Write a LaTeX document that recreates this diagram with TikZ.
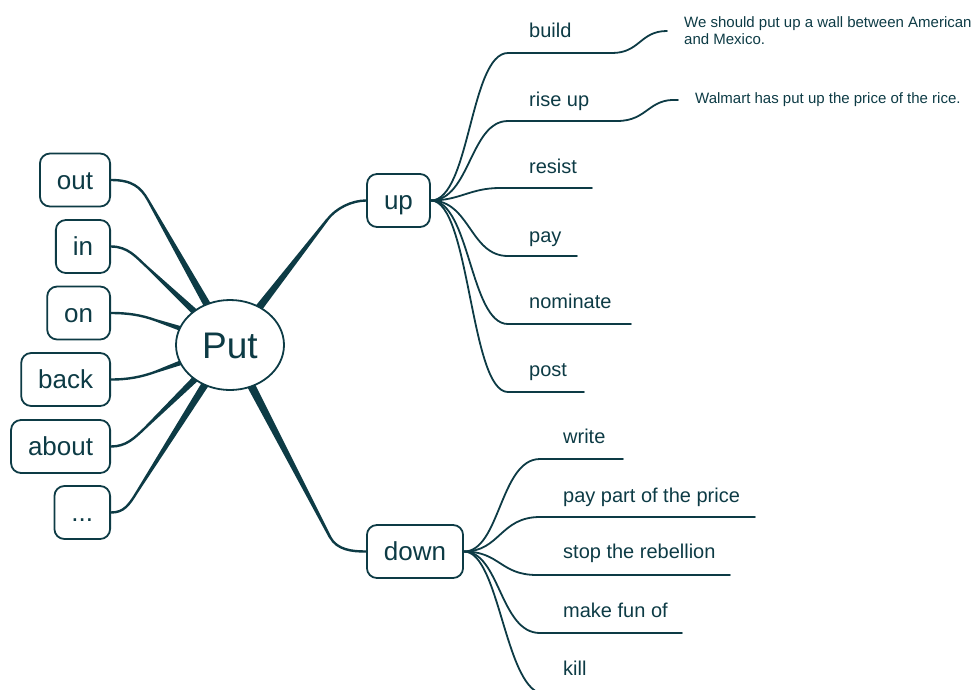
\documentclass[tikz,border=0pt]{standalone}
\usepackage{fontspec}
\setmainfont{Liberation Sans}
\usetikzlibrary{calc,shapes.geometric,backgrounds}
\definecolor{ink}{HTML}{0D3B45}
% tapered segment: thin end #1 (half width #2) to thick end #3 (half width #4)
\newcommand\taperseg[4]{%
  \fill[ink] ($(#1)!#2!90:(#3)$) -- ($(#3)!#4!-90:(#1)$) -- ($(#3)!#4!90:(#1)$) -- ($(#1)!#2!-90:(#3)$) -- cycle;
  \fill[ink] (#1) circle (#2);}
\tikzset{
  box/.style={draw=ink, line width=1.8pt, rounded corners=10pt, fill=white, text=ink,
    font=\fontsize{26}{30}\selectfont, inner xsep=17pt, inner ysep=0pt,
    minimum height=53pt, text height=18.7pt, text depth=0pt},
  hub/.style={ellipse, draw=ink, line width=1.8pt, fill=white, minimum width=108pt,
    minimum height=90pt, inner sep=0pt, text=ink, font=\fontsize{37}{40}\selectfont,
    text height=26.5pt, text depth=0pt},
  leaf/.style={anchor=base west, inner sep=0pt, text=ink, font=\fontsize{20}{24}\selectfont},
  note/.style={anchor=west, inner sep=0pt, text=ink, align=left, font=\fontsize{15}{17}\selectfont},
  branch/.style={draw=ink, line width=2.4pt, line cap=round},
  twig/.style={draw=ink, line width=1.8pt, line cap=round},
}
\begin{document}
\begin{tikzpicture}[x=1pt,y=-1pt]
\useasboundingbox (0,0) rectangle (975,689);
% central node
\node[hub] (Put) at (230,345) {Put};
% left branches
\node[box, anchor=east] (out) at (111,180) {out};
\node[box, anchor=east] (in) at (111,246.5) {in};
\node[box, anchor=east] (on) at (111,313) {on};
\node[box, anchor=east] (back) at (111,379.5) {back};
\node[box, anchor=east] (about) at (111,446.5) {about};
\node[box, anchor=east] (dots) at (111,512.5) {...};
% right branches
\node[box] (up) at (398.5,200.5) {up};
\node[box] (down) at (415,551.5) {down};
% up leaves
\node[leaf] (build) at (529,37) {build};
\node[leaf] (riseup) at (529,106) {rise up};
\node[leaf] (resist) at (529,173) {resist};
\node[leaf] (pay) at (529,242) {pay};
\node[leaf] (nominate) at (529,308) {nominate};
\node[leaf] (post) at (529,376) {post};
% notes
\node[note] (wall) at (684,31) {We should put up a wall between American\\and Mexico.};
\node[note] (walmart) at (695,100) {Walmart has put up the price of the rice.};
% down leaves
\node[leaf] (write) at (563,443) {write};
\node[leaf] (paypart) at (563,502) {pay part of the price};
\node[leaf] (stop) at (563,558) {stop the rebellion};
\node[leaf] (make) at (563,617) {make fun of};
\node[leaf] (kill) at (563,675) {kill};
% joints
\coordinate (jout) at (148,200);
\coordinate (jin) at (147,267);
\coordinate (jon) at (155,320);
\coordinate (jback) at (155,372);
\coordinate (jabout) at (145,428);
\coordinate (jdots) at (137,492);
\coordinate (jup) at (327,220);
\coordinate (jdown) at (330,537);
\begin{pgfonlayer}{background}
  % left connectors
  \draw[branch] (out.east) .. controls (132,180) and (140.6,187) .. (jout);
  \taperseg{jout}{1.2pt}{Put.center}{4.6pt}
  \draw[branch] (in.east) .. controls (128,246.5) and (136,257) .. (jin);
  \taperseg{jin}{1.2pt}{Put.center}{4.6pt}
  \draw[branch] (on.east) .. controls (128,313) and (141,315) .. (jon);
  \taperseg{jon}{1.2pt}{Put.center}{4.6pt}
  \draw[branch] (back.east) .. controls (128,379.5) and (141,377) .. (jback);
  \taperseg{jback}{1.2pt}{Put.center}{4.6pt}
  \draw[branch] (about.east) .. controls (126,446.5) and (134,438.5) .. (jabout);
  \taperseg{jabout}{1.2pt}{Put.center}{4.6pt}
  \draw[branch] (dots.east) .. controls (124,512.5) and (129,505) .. (jdots);
  \taperseg{jdots}{1.2pt}{Put.center}{4.6pt}
  % right main connectors
  \taperseg{jup}{1.3pt}{Put.center}{4.8pt}
  \draw[branch] (jup) .. controls (336,208) and (352,200.5) .. (up.west);
  \taperseg{jdown}{1.3pt}{Put.center}{4.8pt}
  \draw[branch] (jdown) .. controls (337,550) and (352,551.5) .. (down.west);
\end{pgfonlayer}
% up twigs
\draw[twig] (up.east) .. controls (470,200.5) and (470,53) .. (508,53) -- (612,53)
  .. controls (640,53) and (640,31) .. ([xshift=-17pt]wall.west);
\draw[twig] (up.east) .. controls (470,200.5) and (470,121) .. (508,121) -- (617,121)
  .. controls (648,121) and (648,98) .. ([xshift=-17pt]walmart.west);
\draw[twig] (up.east) .. controls (460,200.5) and (470,188) .. (500,188) -- (592,188);
\draw[twig] (up.east) .. controls (470,200.5) and (470,256) .. (508,256) -- (577,256);
\draw[twig] (up.east) .. controls (470,200.5) and (470,324) .. (508,324) -- (631,324);
\draw[twig] (up.east) .. controls (470,200.5) and (470,392) .. (508,392) -- (584,392);
% down twigs
\draw[twig] (down.east) .. controls (500,551.5) and (500,459) .. (540,459) -- (623,459);
\draw[twig] (down.east) .. controls (500,551.5) and (500,517) .. (540,517) -- (755,517);
\draw[twig] (down.east) .. controls (500,551.5) and (500,575) .. (537,575) -- (730,575);
\draw[twig] (down.east) .. controls (500,551.5) and (500,633) .. (540,633) -- (682,633);
\draw[twig] (down.east) .. controls (500,551.5) and (505,694) .. (545,694) -- (600,694);
\end{tikzpicture}
\end{document}
